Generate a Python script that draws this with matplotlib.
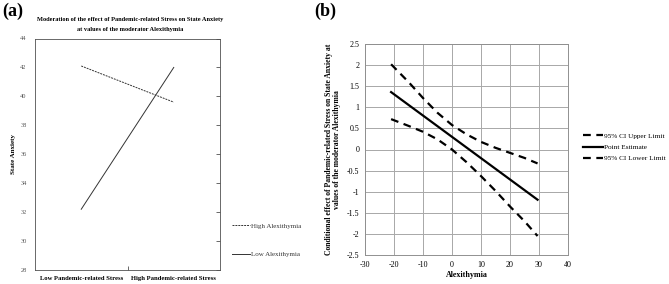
import matplotlib
matplotlib.use("Agg")
import matplotlib.pyplot as plt

plt.rcParams['font.family'] = ['Liberation Serif', 'DejaVu Serif']

# Panel (a) data
cats_a = ["Low Pandemic-related Stress", "High Pandemic-related Stress"]
high_alex = [42.1, 39.6]
low_alex = [32.2, 42.0]
yticks_a = [28, 30, 32, 34, 36, 38, 40, 42, 44]

# Panel (b) data
alex_x = [-21, -15, -10, -5, 0, 5, 10, 15, 20, 25, 29.5]
ci_upper = [2.02, 1.60, 1.22, 0.87, 0.58, 0.36, 0.18, 0.04, -0.08, -0.20, -0.33]
ci_lower = [0.72, 0.56, 0.42, 0.24, 0.00, -0.30, -0.63, -0.98, -1.35, -1.70, -2.05]
pe_x = [-21, 29.5]
pe_y = [1.36, -1.19]
xticks_b = [-30, -20, -10, 0, 10, 20, 30, 40]
yticks_b = [-2.5, -2, -1.5, -1, -0.5, 0, 0.5, 1, 1.5, 2, 2.5]

W, H = 669, 284
fig = plt.figure(figsize=(W / 100, H / 100), dpi=100)

def ax_px(l, t, r, b):
    return fig.add_axes([l / W, (H - b) / H, (r - l) / W, (b - t) / H])

# ---------- Panel (a)
axa = ax_px(35, 38.5, 220, 270)
gray = '#505050'
xa = list(range(len(cats_a)))
la, = axa.plot(xa, high_alex, color='#333333', lw=0.7, ls=(0, (2, 1)))
lb, = axa.plot(xa, low_alex, color='#333333', lw=0.7, ls='-')
axa.set_xlim(-0.5, 1.5)
axa.set_ylim(28, 44)
axa.set_yticks(yticks_a)
axa.set_yticklabels([str(v) for v in yticks_a], fontsize=4.6, color='#555555')
axa.set_xticks(xa)
axa.set_xticklabels(cats_a, fontsize=4.8, fontweight='bold')
axa.tick_params(axis='x', length=0, pad=4)
axa.tick_params(axis='y', length=0, pad=6)
axa.set_xticks([0.5], minor=True)
axa.tick_params(axis='x', which='minor', direction='in', length=3, color=gray, width=0.6)
for s in axa.spines.values():
    s.set_color(gray)
    s.set_linewidth(0.6)
# right-side inward ticks
axr = axa.twinx()
axr.set_ylim(28, 44)
axr.set_yticks(yticks_a)
axr.set_yticklabels([])
axr.tick_params(axis='y', direction='in', length=3, color=gray, width=0.6)
for s in axr.spines.values():
    s.set_visible(False)
axa.set_ylabel("State Anxiety", fontsize=5, fontweight='bold', labelpad=3)
fig.text(130 / W, (H - 20) / H, "Moderation of the effect of Pandemic-related Stress on State Anxiety",
         fontsize=4.6, fontweight='bold', ha='center', va='center')
fig.text(130 / W, (H - 29) / H, "at values of the moderator Alexithymia",
         fontsize=4.6, fontweight='bold', ha='center', va='center')
fig.legend([la, lb], ["High Alexithymia", "Low Alexithymia"],
           loc='center left', bbox_to_anchor=(226 / W, (H - 240) / H),
           frameon=False, fontsize=5, handlelength=2.5, handletextpad=0.2,
           labelspacing=3.3, labelcolor='#333333')
fig.text(2 / W, (H - 11) / H, "(a)", fontsize=13, fontweight='bold', ha='left', va='center')

# ---------- Panel (b)
axb = ax_px(365, 44, 568, 255)
axb.plot(alex_x, ci_upper, color='black', lw=1.6, ls=(0, (3.5, 2.5)), label="95% CI Upper Limit")
axb.plot(pe_x, pe_y, color='black', lw=1.6, ls='-', label="Point Estimate")
axb.plot(alex_x, ci_lower, color='black', lw=1.6, ls=(0, (3.5, 2.5)), label="95% CI Lower Limit")
axb.set_xlim(-30, 40)
axb.set_ylim(-2.5, 2.5)
axb.set_xticks(xticks_b)
axb.set_yticks(yticks_b)
axb.set_xticklabels([str(v) for v in xticks_b], fontsize=5.8)
axb.set_yticklabels([f"{v:g}" for v in yticks_b], fontsize=5.8)
axb.tick_params(length=0, pad=4)
axb.grid(True, color='#a8a8a8', lw=0.7)
axb.set_axisbelow(True)
for s in axb.spines.values():
    s.set_color('#909090')
    s.set_linewidth(0.7)
axb.set_xlabel("Alexithymia", fontsize=5.8, fontweight='bold', labelpad=2)
axb.set_ylabel("Conditional effect of Pandemic-related Stress on State Anxiety at\nvalues of the moderator Alexithymia",
               fontsize=5.5, fontweight='bold', labelpad=4, linespacing=1.0)
fig.legend(*axb.get_legend_handles_labels(), loc='center left',
           bbox_to_anchor=(576 / W, (H - 147) / H), frameon=False, fontsize=5.2,
           handlelength=2.8, handletextpad=0.15, labelspacing=0.75)
fig.text(314 / W, (H - 11) / H, "(b)", fontsize=13, fontweight='bold', ha='left', va='center')

fig.savefig("out.png", dpi=100)
